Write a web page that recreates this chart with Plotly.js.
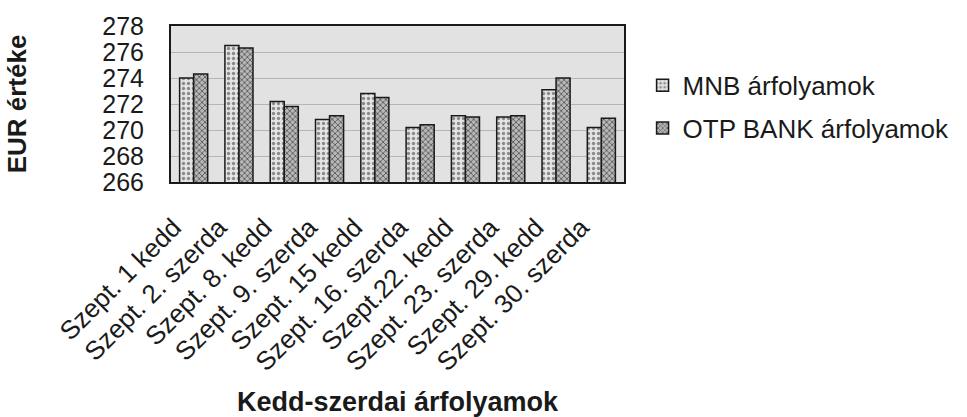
<!DOCTYPE html>
<html>
<head>
<meta charset="utf-8">
<script src="https://cdn.plot.ly/plotly-3.0.1.min.js"></script>
<style>html,body{margin:0;padding:0;background:#fff;}#chart{width:967px;height:417px;}</style>
</head>
<body>
<div id="chart"></div>
<script>
const categories = ["Szept. 1 kedd", "Szept. 2. szerda", "Szept. 8. kedd", "Szept. 9. szerda", "Szept. 15 kedd", "Szept. 16. szerda", "Szept.22. kedd", "Szept. 23. szerda", "Szept. 29. kedd", "Szept. 30. szerda"];
const mnbValues = [274.0, 276.5, 272.2, 270.8, 272.8, 270.2, 271.1, 271.0, 273.1, 270.2];
const otpValues = [274.3, 276.3, 271.8, 271.1, 272.5, 270.4, 271.0, 271.1, 274.0, 270.9];
const seriesNames = ["MNB árfolyamok", "OTP BANK árfolyamok"];
const yTicks = [266, 268, 270, 272, 274, 276, 278];

const font = "Liberation Sans, Arial, sans-serif";
const traces = [
  {type: "bar", name: seriesNames[0], x: categories, y: mnbValues, legendgroup: "a",
   marker: {color: "#d9d9d9", line: {color: "#1a1a1a", width: 1.5},
            pattern: {shape: ".", fgcolor: "#8a8a8a", bgcolor: "#e4e4e4", size: 5, solidity: 0.35}}},
  {type: "bar", name: seriesNames[1], x: categories, y: otpValues, legendgroup: "b",
   marker: {color: "#a8a8a8", line: {color: "#1a1a1a", width: 1.5},
            pattern: {shape: "x", fgcolor: "#5a5a5a", bgcolor: "#b8b8b8", size: 4, solidity: 0.4}}}
];
const layout = {
  width: 967, height: 417,
  margin: {l: 171, r: 335, t: 26, b: 235},
  paper_bgcolor: "#ffffff",
  plot_bgcolor: "#e2e2e2",
  barmode: "group", bargap: 0.38, bargroupgap: 0,
  font: {family: font, color: "#1a1a1a"},
  xaxis: {
    type: "category", tickangle: -45, automargin: false,
    tickfont: {size: 26, family: font, color: "#1a1a1a"},
    ticklabelstandoff: 18, ticklabelshift: -20,
    showline: true, linecolor: "#1a1a1a", linewidth: 2, mirror: true,
    ticks: "", showgrid: false,
    title: {text: "Kedd-szerdai árfolyamok", font: {size: 27, family: font, weight: "bold", color: "#1a1a1a"}, standoff: 20}
  },
  yaxis: {
    range: [266, 278], tickvals: yTicks, ticktext: yTicks.map(String), automargin: false,
    tickfont: {size: 25, family: font, color: "#1a1a1a"},
    showline: true, linecolor: "#1a1a1a", linewidth: 2, mirror: true,
    ticks: "", ticklabelstandoff: 20,
    showgrid: true, gridcolor: "#b5b5b5", gridwidth: 1, zeroline: false,
    title: {text: "EUR értéke", font: {size: 26, family: font, weight: "bold", color: "#1a1a1a"}, standoff: 68}
  },
  legend: {
    x: 1.041, xanchor: "left", y: 0.77, yanchor: "top",
    font: {size: 26, family: font, color: "#1a1a1a"},
    bgcolor: "rgba(0,0,0,0)", tracegroupgap: 6, traceorder: "grouped"
  },
  showlegend: true
};
Plotly.newPlot("chart", traces, layout, {staticPlot: true, displayModeBar: false});
</script>
</body>
</html>
